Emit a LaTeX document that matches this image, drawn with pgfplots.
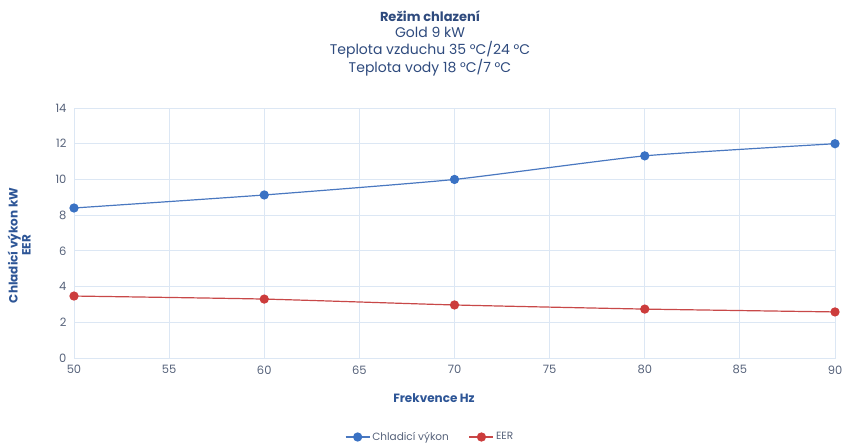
\documentclass[border=0pt]{standalone}
\usepackage{pgfplots}
\pgfplotsset{compat=1.18}
\usepackage{fontspec}
\setmainfont{Poppins}
\definecolor{titleblue}{HTML}{2E4A7D}
\definecolor{labblue}{HTML}{2D5596}
\definecolor{tickgray}{HTML}{56627A}
\definecolor{gridblue}{HTML}{DCE7F4}
\definecolor{lineblue}{HTML}{4A78C0}
\definecolor{markblue}{HTML}{3A72C4}
\definecolor{linered}{HTML}{C84848}
\definecolor{markred}{HTML}{CC3C3C}

\begin{document}
\begin{tikzpicture}[x=1pt,y=1pt]
\path[use as bounding box] (-74,-87) rectangle (774,358);
\begin{axis}[
  at={(0,0)}, anchor=origin,
  scale only axis, width=761pt, height=250pt,
  xmin=50, xmax=90, ymin=0, ymax=14,
  xtick={50,55,...,90}, ytick={0,2,...,14},
  grid=major, major grid style={draw=gridblue, line width=0.8pt},
  axis line style={draw=gridblue, line width=0.8pt},
  major tick length=0pt,
  tick label style={font=\fontsize{11.5}{13}\selectfont, text=tickgray},
  /pgf/number format/assume math mode=true,
  xticklabel style={yshift=-4pt},
  yticklabel style={xshift=-4pt},
  xlabel={\textbf{Frekvence Hz}},
  xlabel style={font=\fontsize{12}{14}\selectfont, text=labblue, at={(axis description cs:0.473,-0.16)}, anchor=center},
  ylabel={\textbf{Chladicí výkon kW}\\\textbf{EER}},
  ylabel style={font=\fontsize{12}{13}\selectfont, text=labblue, align=center, at={(axis description cs:-0.072,0.45)}, anchor=center, rotate=0},
  legend columns=2,
  legend style={at={(axis description cs:0.468,-0.316)}, anchor=center, draw=none, fill=none,
    font=\fontsize{10.5}{12}\selectfont, text=tickgray,
    /tikz/every even column/.append style={column sep=18pt}},
  legend image code/.code={
    \draw[#1] (0pt,0pt) -- (24pt,0pt);
    \draw[#1, mark repeat=1] plot coordinates {(12pt,0pt)};
  },
]
\addplot[color=lineblue, line width=1.2pt, smooth, tension=0.3, mark=*, mark size=4pt,
  mark options={fill=markblue, draw=markblue}]
  coordinates {(50,8.4) (60,9.13) (70,10.0) (80,11.32) (90,12.0)};
\addlegendentry{Chladicí výkon}
\addplot[color=linered, line width=1.2pt, smooth, tension=0.3, mark=*, mark size=4pt,
  mark options={fill=markred, draw=markred}]
  coordinates {(50,3.47) (60,3.3) (70,2.97) (80,2.74) (90,2.58)};
\addlegendentry{EER}
\end{axis}
\node[text=titleblue, align=center, font=\fontsize{14}{16.5}\selectfont, anchor=north] at (356,351)
  {{\fontsize{13}{16.5}\selectfont\textbf{Režim chlazení}}\\Gold 9 kW\\Teplota vzduchu 35 °C/24 °C\\Teplota vody 18 °C/7 °C};
\end{tikzpicture}
\end{document}
